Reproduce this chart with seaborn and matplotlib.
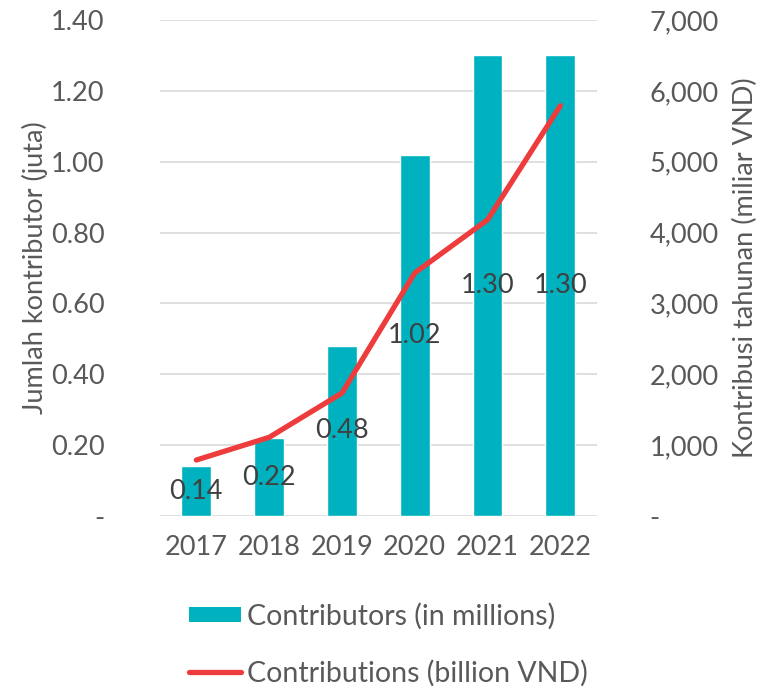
import matplotlib
matplotlib.use("Agg")
import matplotlib.pyplot as plt
import seaborn as sns
import numpy as np
import pandas as pd
from matplotlib.patches import Patch
from matplotlib.lines import Line2D
from matplotlib.ticker import FuncFormatter

years = ["2017", "2018", "2019", "2020", "2021", "2022"]
contributors = [0.14, 0.22, 0.48, 1.02, 1.30, 1.30]
contributions = [790, 1110, 1735, 3430, 4180, 5790]
left_ticks = [0, 0.2, 0.4, 0.6, 0.8, 1.0, 1.2, 1.4]
right_ticks = [0, 1000, 2000, 3000, 4000, 5000, 6000, 7000]

sns.set_style("white")
plt.rcParams['font.family'] = ['Lato', 'DejaVu Sans']

BAR = "#00B2BF"
LINE = "#EE3B3B"
TXT = "#595959"
FS = 19.5

df = pd.DataFrame({"year": years, "contributors": contributors,
                   "contributions": contributions})

fig = plt.figure(figsize=(7.69, 6.88), dpi=100)
ax = fig.add_axes([0.208, 0.25, 0.568, 0.721])

sns.barplot(data=df, x="year", y="contributors", color=BAR, width=0.41,
            saturation=1, ax=ax)
ax.set_xlim(-0.5, 5.5)
ax.set_ylim(0, 1.4)
ax.set_yticks(left_ticks)
ax.yaxis.set_major_formatter(FuncFormatter(lambda v, p: "-" if v == 0 else f"{v:.2f}"))
ax.grid(axis="y", color="#D9D9D9", linewidth=1.2)
ax.set_axisbelow(True)
for s in ax.spines.values():
    s.set_visible(False)
ax.tick_params(axis="y", length=0, labelsize=FS, labelcolor=TXT, pad=40)
ax.tick_params(axis="x", length=0, labelsize=FS, labelcolor=TXT, pad=14)
ax.set_xlabel("")
ax.set_ylabel("Jumlah kontributor (juta)", fontsize=FS, color=TXT, labelpad=2)

for i, v in enumerate(contributors):
    ax.text(i, v / 2, f"{v:.2f}", ha="center", va="center", fontsize=FS, color="#404040", zorder=5)

ax2 = ax.twinx()
df["pos"] = np.arange(len(years))
sns.lineplot(data=df, x="pos", y="contributions", color=LINE, linewidth=3.8,
             ax=ax2, solid_capstyle="round", zorder=4)
ax2.set_ylim(0, 7000)
ax2.set_xlim(-0.5, 5.5)
ax2.set_yticks(right_ticks)
ax2.yaxis.set_major_formatter(FuncFormatter(lambda v, p: "-" if v == 0 else f"{int(v):,}"))
for s in ax2.spines.values():
    s.set_visible(False)
ax2.tick_params(axis="y", length=0, labelsize=FS, labelcolor=TXT, pad=38)
ax2.set_ylabel("Kontribusi tahunan (miliar VND)", fontsize=FS, color=TXT, labelpad=10)
ax2.set_xlabel("")
for lab in ax2.get_yticklabels():
    lab.set_horizontalalignment("left")

handles = [Patch(facecolor=BAR, edgecolor="none"),
           Line2D([0], [0], color=LINE, linewidth=3.8, solid_capstyle="round")]
fig.legend(handles, ["Contributors (in millions)", "Contributions (billion VND)"],
           loc="upper center", bbox_to_anchor=(0.505, 0.153), frameon=False,
           fontsize=FS + 1, labelcolor=TXT, handlelength=1.85, handletextpad=0.2,
           labelspacing=1.05, handleheight=0.45, borderpad=0.2)

fig.savefig("out.png", dpi=100)
